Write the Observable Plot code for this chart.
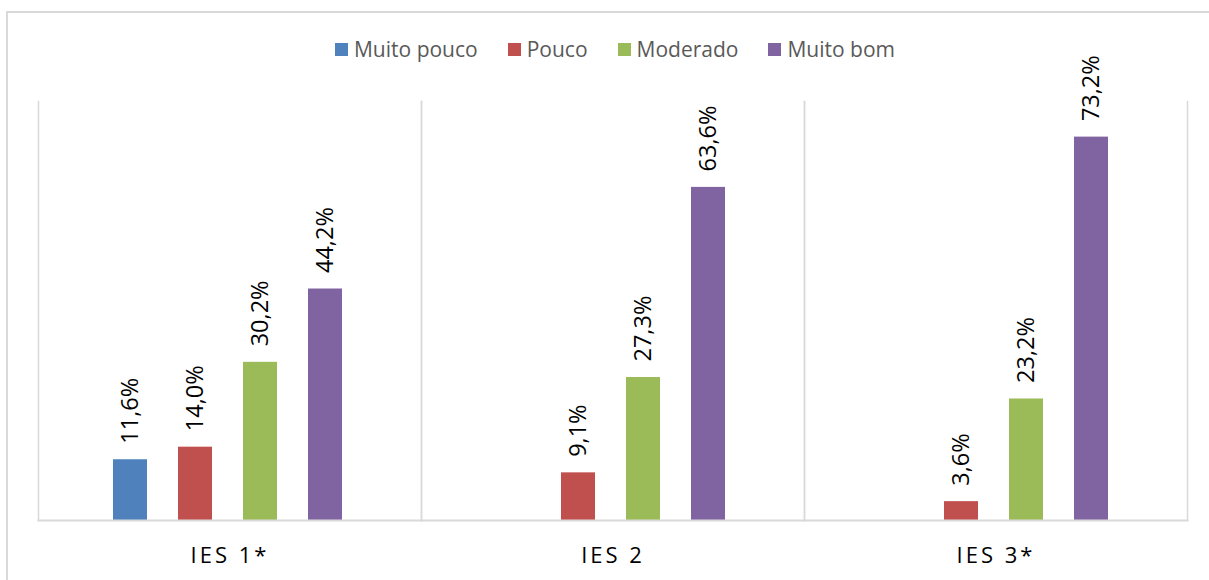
<!DOCTYPE html>
<html>
<head>
<meta charset="utf-8">
<script src="https://cdn.jsdelivr.net/npm/d3@7"></script>
<script src="https://cdn.jsdelivr.net/npm/@observablehq/plot@0.6"></script>
<style>
  html, body { margin: 0; padding: 0; background: #fff; }
  #chart { position: relative; width: 1209px; height: 580px; overflow: hidden; font-family: "Open Sans", sans-serif; }
  #border { position: absolute; left: 6px; top: 11px; width: 1220px; height: 620px; border: 2px solid #d9d9d9; box-sizing: border-box; }
  #legend { position: absolute; left: 0; top: 35px; width: 1209px; padding-left: 21px; box-sizing: border-box;
            display: flex; justify-content: center; align-items: center; gap: 30px; }
  .item { display: flex; align-items: center; font-size: 21px; color: #595959; white-space: nowrap; }
  .swatch { width: 13px; height: 13px; margin-right: 6px; }
  #plot { position: absolute; left: 0; top: 62px; }
  g[aria-label="fx-axis tick label"] text { letter-spacing: 3px; }
</style>
</head>
<body>
<div id="chart">
  <div id="border"></div>
  <div id="legend"></div>
  <div id="plot"></div>
</div>
<script>
// Institutions (facets) and answer levels (bars within each facet)
const groups = ["IES 1*", "IES 2", "IES 3*"];
const levels = ["Muito pouco", "Pouco", "Moderado", "Muito bom"];
const colors = ["#4F81BD", "#C0504D", "#9BBB59", "#8064A2"];

// Percentages per level for each institution (null = no answers)
const ies1 = [11.6, 14.0, 30.2, 44.2];
const ies2 = [null, 9.1, 27.3, 63.6];
const ies3 = [null, 3.6, 23.2, 73.2];

const series = [ies1, ies2, ies3];
const rows = [];
groups.forEach((g, gi) => {
  levels.forEach((l, li) => {
    const v = series[gi][li];
    if (v != null) rows.push({group: g, level: l, value: v});
  });
});

const fmt = v => v.toFixed(1).replace(".", ",") + "%";

// Legend
const legend = d3.select("#legend");
levels.forEach((l, i) => {
  const item = legend.append("div").attr("class", "item");
  item.append("div").attr("class", "swatch").style("background", colors[i]);
  item.append("span").text(l);
});

const grid = "#d9d9d9";

const chart = Plot.plot({
  width: 1209,
  height: 518,
  marginTop: 39,
  marginBottom: 60,
  marginLeft: 37,
  marginRight: 21,
  style: {background: "transparent", overflow: "visible", fontFamily: "Open Sans, sans-serif"},
  fx: {domain: groups, padding: 0, label: null},
  x: {domain: levels, paddingInner: 0.48, paddingOuter: 1.16, align: 0.485, axis: null},
  y: {domain: [0, 80], axis: null},
  color: {domain: levels, range: colors},
  marks: [
    Plot.frame({anchor: "left", stroke: grid, strokeWidth: 1.5, strokeOpacity: 1}),
    Plot.frame({anchor: "right", stroke: grid, strokeWidth: 1.5, strokeOpacity: 1}),
    Plot.barY(rows, {fx: "group", x: "level", y: "value", fill: "level"}),
    Plot.frame({anchor: "bottom", stroke: grid, strokeWidth: 2, strokeOpacity: 1}),
    Plot.text(rows, {
      fx: "group", x: "level", y: "value", text: d => fmt(d.value),
      rotate: -90, textAnchor: "start", lineAnchor: "middle", dy: -16,
      fontSize: 23.5, fill: "#000"
    }),
    Plot.axisFx({anchor: "bottom", tickSize: 0, tickPadding: 27, label: null, fontSize: 22, fill: "#000"})
  ]
});
document.getElementById("plot").appendChild(chart);
</script>
</body>
</html>
